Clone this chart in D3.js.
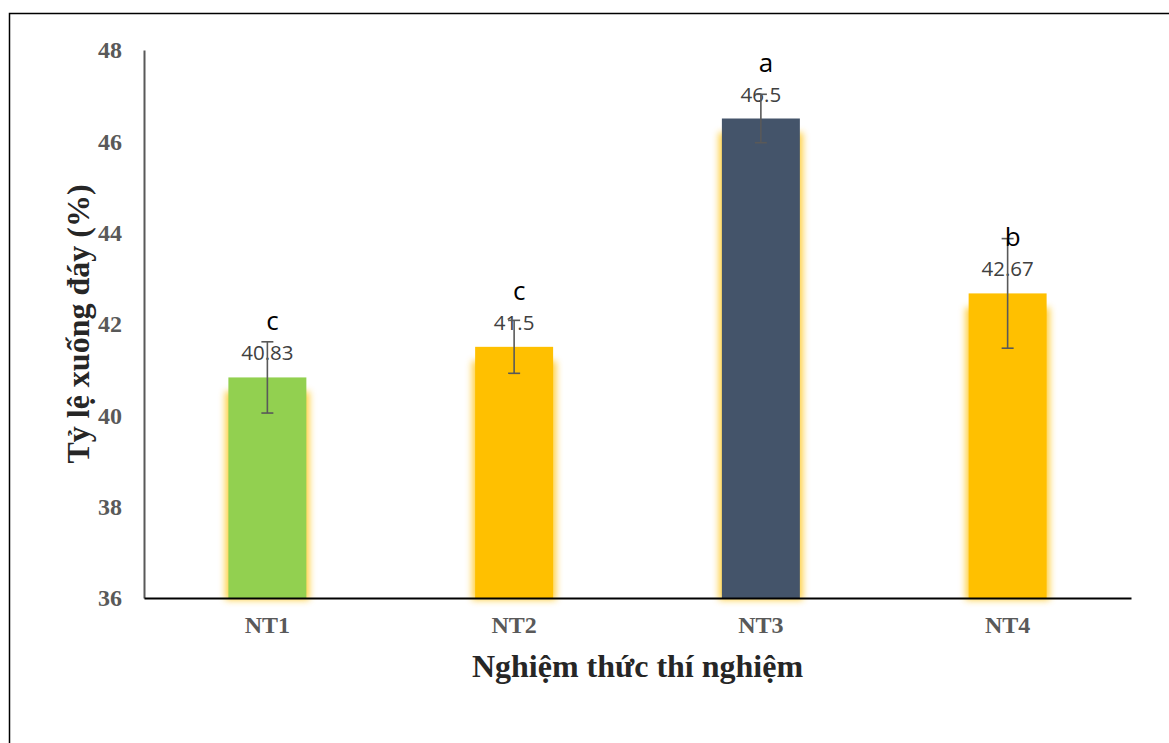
<!DOCTYPE html>
<html>
<head>
<meta charset="utf-8">
<script src="https://cdn.jsdelivr.net/npm/d3@7"></script>
<style>
  html, body { margin: 0; padding: 0; background: #fff; }
  svg { display: block; }
</style>
</head>
<body>
<svg id="chart" width="1169" height="743"></svg>
<script>
// Treatments, mean values, error margins and significance letters
const categories = ["NT1", "NT2", "NT3", "NT4"];
const values = [40.83, 41.5, 46.5, 42.67];
const errors = [0.78, 0.58, 0.53, 1.2];
const letters = ["c", "c", "a", "b"];
const colors = ["#92D050", "#FFC000", "#44546A", "#FFC000"];
const yTicks = [36, 38, 40, 42, 44, 46, 48];

const svg = d3.select("#chart");
const plot = { left: 144, right: 1131, top: 50, bottom: 598 };
const serif = "'Liberation Serif', 'Times New Roman', serif";
const sans = "'Open Sans', 'Noto Sans', sans-serif";

// Outer frame (only top and left edges fall inside the view)
svg.append("rect")
  .attr("x", 9.5).attr("y", 13.5)
  .attr("width", 1200).attr("height", 800)
  .attr("fill", "none").attr("stroke", "#000").attr("stroke-width", 1.5);

const x = d3.scaleBand().domain(categories).range([plot.left, plot.right]).padding(0);
const y = d3.scaleLinear().domain([36, 48]).range([plot.bottom, plot.top]);
const barW = x.bandwidth() * 0.316;

// Soft glow behind the bars
const defs = svg.append("defs");
defs.append("filter").attr("id", "glow")
  .attr("x", "-50%").attr("y", "-20%").attr("width", "200%").attr("height", "140%")
  .append("feGaussianBlur").attr("stdDeviation", 3.5);

const cx = d => x(d) + x.bandwidth() / 2;

svg.append("g").selectAll("rect")
  .data(categories)
  .join("rect")
  .attr("x", d => cx(d) - barW / 2 - 3)
  .attr("y", (d, i) => y(values[i]) + 14)
  .attr("width", barW + 6)
  .attr("height", (d, i) => plot.bottom - y(values[i]) - 12)
  .attr("fill", "#FFC000")
  .attr("opacity", 0.75)
  .attr("filter", "url(#glow)");

// Bars
svg.append("g").selectAll("rect")
  .data(categories)
  .join("rect")
  .attr("x", d => cx(d) - barW / 2)
  .attr("y", (d, i) => y(values[i]))
  .attr("width", barW)
  .attr("height", (d, i) => plot.bottom - y(values[i]))
  .attr("fill", (d, i) => colors[i]);

// Y axis
const yAxis = d3.axisLeft(y).tickValues(yTicks).tickSize(0).tickPadding(22);
const gy = svg.append("g").attr("transform", `translate(${plot.left},0)`).call(yAxis);
gy.select(".domain").attr("stroke", "#595959").attr("stroke-width", 2);
gy.selectAll("text")
  .attr("font-family", serif)
  .attr("font-weight", "bold")
  .attr("font-size", 24)
  .attr("fill", "#595959");

// X axis
const xAxis = d3.axisBottom(x).tickSize(0).tickPadding(18);
const gx = svg.append("g").attr("transform", `translate(0,${plot.bottom})`).call(xAxis);
gx.select(".domain").attr("stroke", "#000").attr("stroke-width", 2);
gx.selectAll("text")
  .attr("font-family", serif)
  .attr("font-weight", "bold")
  .attr("font-size", 24)
  .attr("fill", "#595959");

// Value labels
svg.append("g").selectAll("text")
  .data(categories)
  .join("text")
  .attr("x", d => cx(d))
  .attr("y", (d, i) => y(values[i]) - 17)
  .attr("text-anchor", "middle")
  .attr("font-family", sans)
  .attr("font-size", 20.5)
  .attr("fill", "#404040")
  .text((d, i) => values[i]);

// Error bars
const eb = svg.append("g").attr("stroke", "#595959").attr("stroke-width", 1.6).attr("fill", "none");
categories.forEach((d, i) => {
  const top = y(values[i] + errors[i]);
  const bot = y(values[i] - errors[i]);
  eb.append("line").attr("x1", cx(d)).attr("x2", cx(d)).attr("y1", top).attr("y2", bot);
  eb.append("line").attr("x1", cx(d) - 6).attr("x2", cx(d) + 6).attr("y1", top).attr("y2", top);
  eb.append("line").attr("x1", cx(d) - 6).attr("x2", cx(d) + 6).attr("y1", bot).attr("y2", bot);
});

// Significance letters
svg.append("g").selectAll("text")
  .data(categories)
  .join("text")
  .attr("x", d => cx(d) + 5)
  .attr("y", (d, i) => y(values[i]) - 47)
  .attr("text-anchor", "middle")
  .attr("font-family", sans)
  .attr("font-size", 26)
  .attr("fill", "#000")
  .text((d, i) => letters[i]);

// Axis titles
svg.append("text")
  .attr("transform", `translate(89,${(plot.top + plot.bottom) / 2}) rotate(-90)`)
  .attr("text-anchor", "middle")
  .attr("font-family", serif)
  .attr("font-weight", "bold")
  .attr("font-size", 32)
  .attr("fill", "#262626")
  .text("Tỷ lệ xuống đáy (%)");

svg.append("text")
  .attr("x", (plot.left + plot.right) / 2)
  .attr("y", 677)
  .attr("text-anchor", "middle")
  .attr("font-family", serif)
  .attr("font-weight", "bold")
  .attr("font-size", 32)
  .attr("fill", "#262626")
  .text("Nghiệm thức thí nghiệm");
</script>
</body>
</html>
